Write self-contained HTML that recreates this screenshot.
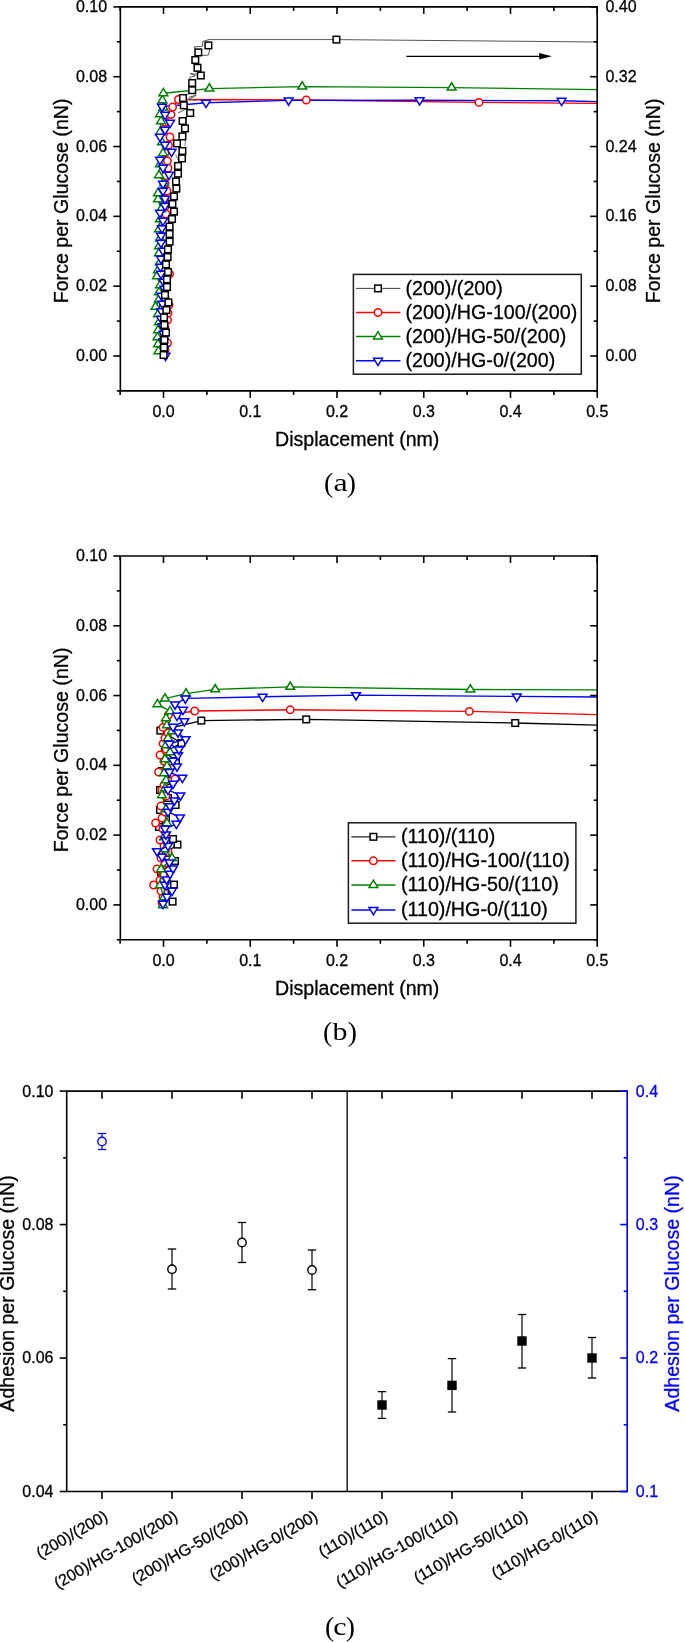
<!DOCTYPE html>
<html><head><meta charset="utf-8"><title>Figure</title>
<style>html,body{margin:0;padding:0;background:#fff}svg{display:block;will-change:transform}</style></head>
<body>
<svg width="685" height="1642" viewBox="0 0 685 1642">
<rect width="685" height="1642" fill="#fff"/>
<g clip-path="url(#ca)">
<defs><clipPath id="ca"><rect x="120" y="6.9" width="478" height="384.0"/></clipPath></defs>
<polyline points="165.0,350.0 167.5,343.0 164.0,335.5 165.0,328.0 167.5,320.0 168.0,313.0 169.0,305.0 165.0,297.5 165.0,290.0 166.0,282.0 169.6,274.0 164.5,267.5 165.0,260.0 166.0,252.0 164.5,245.0 165.0,237.0 165.5,229.5 165.0,222.0 166.0,214.0 165.0,206.5 165.0,199.0 167.0,191.0 165.0,183.5 165.0,176.0 168.0,168.0 167.4,161.0 165.0,153.0 168.5,145.0 170.0,137.0 164.0,129.5 165.0,122.0 171.0,114.6 172.6,107.0 178.5,99.5 306.3,100.0 479.0,102.4 597.0,103.4" fill="none" stroke="#ff0000" stroke-width="1.4" stroke-linejoin="round"/>
<polyline points="158.5,351.2 158.0,344.2 157.5,337.2 158.0,330.2 159.0,322.2 158.0,314.2 155.5,306.7 159.0,299.2 159.0,292.2 160.0,285.2 157.0,276.2 158.0,270.2 160.0,262.2 159.0,253.2 159.0,246.2 160.0,238.2 159.0,229.2 160.0,219.2 161.0,209.2 158.0,199.2 158.0,193.2 164.0,183.2 159.0,175.2 160.0,164.2 163.0,153.2 162.0,142.2 160.0,132.2 161.0,121.2 160.0,114.2 163.4,107.6 162.4,100.2 163.4,93.2 209.4,88.6 302.2,86.6 451.6,87.6 597.0,89.6" fill="none" stroke="#008000" stroke-width="1.4" stroke-linejoin="round"/>
<polyline points="163.0,355.8 162.0,348.8 161.0,341.3 161.0,333.8 160.0,326.3 158.5,318.8 159.0,311.3 160.0,303.8 159.0,295.8 162.0,288.8 161.0,281.8 160.0,273.8 159.4,266.8 160.0,258.8 162.0,250.8 160.0,242.8 160.0,235.8 161.0,228.3 162.0,220.8 159.0,212.8 164.0,205.8 164.0,198.8 162.0,190.8 162.0,183.8 168.0,174.8 162.0,167.8 159.0,159.8 170.6,151.8 164.0,144.8 159.0,136.8 164.0,129.8 169.0,122.8 164.0,114.8 161.0,106.8 206.0,102.8 288.6,100.4 419.6,100.3 561.6,100.8 597.0,101.6" fill="none" stroke="#0000ff" stroke-width="1.4" stroke-linejoin="round"/>
<circle cx="165.00" cy="350.00" r="3.7" fill="#fff" stroke="#ff0000" stroke-width="1.5"/>
<circle cx="167.50" cy="343.00" r="3.7" fill="#fff" stroke="#ff0000" stroke-width="1.5"/>
<circle cx="164.00" cy="335.50" r="3.7" fill="#fff" stroke="#ff0000" stroke-width="1.5"/>
<circle cx="165.00" cy="328.00" r="3.7" fill="#fff" stroke="#ff0000" stroke-width="1.5"/>
<circle cx="167.50" cy="320.00" r="3.7" fill="#fff" stroke="#ff0000" stroke-width="1.5"/>
<circle cx="168.00" cy="313.00" r="3.7" fill="#fff" stroke="#ff0000" stroke-width="1.5"/>
<circle cx="169.00" cy="305.00" r="3.7" fill="#fff" stroke="#ff0000" stroke-width="1.5"/>
<circle cx="165.00" cy="297.50" r="3.7" fill="#fff" stroke="#ff0000" stroke-width="1.5"/>
<circle cx="165.00" cy="290.00" r="3.7" fill="#fff" stroke="#ff0000" stroke-width="1.5"/>
<circle cx="166.00" cy="282.00" r="3.7" fill="#fff" stroke="#ff0000" stroke-width="1.5"/>
<circle cx="169.60" cy="274.00" r="3.7" fill="#fff" stroke="#ff0000" stroke-width="1.5"/>
<circle cx="164.50" cy="267.50" r="3.7" fill="#fff" stroke="#ff0000" stroke-width="1.5"/>
<circle cx="165.00" cy="260.00" r="3.7" fill="#fff" stroke="#ff0000" stroke-width="1.5"/>
<circle cx="166.00" cy="252.00" r="3.7" fill="#fff" stroke="#ff0000" stroke-width="1.5"/>
<circle cx="164.50" cy="245.00" r="3.7" fill="#fff" stroke="#ff0000" stroke-width="1.5"/>
<circle cx="165.00" cy="237.00" r="3.7" fill="#fff" stroke="#ff0000" stroke-width="1.5"/>
<circle cx="165.50" cy="229.50" r="3.7" fill="#fff" stroke="#ff0000" stroke-width="1.5"/>
<circle cx="165.00" cy="222.00" r="3.7" fill="#fff" stroke="#ff0000" stroke-width="1.5"/>
<circle cx="166.00" cy="214.00" r="3.7" fill="#fff" stroke="#ff0000" stroke-width="1.5"/>
<circle cx="165.00" cy="206.50" r="3.7" fill="#fff" stroke="#ff0000" stroke-width="1.5"/>
<circle cx="165.00" cy="199.00" r="3.7" fill="#fff" stroke="#ff0000" stroke-width="1.5"/>
<circle cx="167.00" cy="191.00" r="3.7" fill="#fff" stroke="#ff0000" stroke-width="1.5"/>
<circle cx="165.00" cy="183.50" r="3.7" fill="#fff" stroke="#ff0000" stroke-width="1.5"/>
<circle cx="165.00" cy="176.00" r="3.7" fill="#fff" stroke="#ff0000" stroke-width="1.5"/>
<circle cx="168.00" cy="168.00" r="3.7" fill="#fff" stroke="#ff0000" stroke-width="1.5"/>
<circle cx="167.40" cy="161.00" r="3.7" fill="#fff" stroke="#ff0000" stroke-width="1.5"/>
<circle cx="165.00" cy="153.00" r="3.7" fill="#fff" stroke="#ff0000" stroke-width="1.5"/>
<circle cx="168.50" cy="145.00" r="3.7" fill="#fff" stroke="#ff0000" stroke-width="1.5"/>
<circle cx="170.00" cy="137.00" r="3.7" fill="#fff" stroke="#ff0000" stroke-width="1.5"/>
<circle cx="164.00" cy="129.50" r="3.7" fill="#fff" stroke="#ff0000" stroke-width="1.5"/>
<circle cx="165.00" cy="122.00" r="3.7" fill="#fff" stroke="#ff0000" stroke-width="1.5"/>
<circle cx="171.00" cy="114.60" r="3.7" fill="#fff" stroke="#ff0000" stroke-width="1.5"/>
<circle cx="172.60" cy="107.00" r="3.7" fill="#fff" stroke="#ff0000" stroke-width="1.5"/>
<circle cx="178.50" cy="99.50" r="3.7" fill="#fff" stroke="#ff0000" stroke-width="1.5"/>
<circle cx="306.30" cy="100.00" r="3.7" fill="#fff" stroke="#ff0000" stroke-width="1.5"/>
<circle cx="479.00" cy="102.40" r="3.7" fill="#fff" stroke="#ff0000" stroke-width="1.5"/>
<path d="M154.10 353.65L162.90 353.65L158.50 346.35Z" fill="#fff" stroke="#008000" stroke-width="1.5"/>
<path d="M153.60 346.65L162.40 346.65L158.00 339.35Z" fill="#fff" stroke="#008000" stroke-width="1.5"/>
<path d="M153.10 339.65L161.90 339.65L157.50 332.35Z" fill="#fff" stroke="#008000" stroke-width="1.5"/>
<path d="M153.60 332.65L162.40 332.65L158.00 325.35Z" fill="#fff" stroke="#008000" stroke-width="1.5"/>
<path d="M154.60 324.65L163.40 324.65L159.00 317.35Z" fill="#fff" stroke="#008000" stroke-width="1.5"/>
<path d="M153.60 316.65L162.40 316.65L158.00 309.35Z" fill="#fff" stroke="#008000" stroke-width="1.5"/>
<path d="M151.10 309.15L159.90 309.15L155.50 301.85Z" fill="#fff" stroke="#008000" stroke-width="1.5"/>
<path d="M154.60 301.65L163.40 301.65L159.00 294.35Z" fill="#fff" stroke="#008000" stroke-width="1.5"/>
<path d="M154.60 294.65L163.40 294.65L159.00 287.35Z" fill="#fff" stroke="#008000" stroke-width="1.5"/>
<path d="M155.60 287.65L164.40 287.65L160.00 280.35Z" fill="#fff" stroke="#008000" stroke-width="1.5"/>
<path d="M152.60 278.65L161.40 278.65L157.00 271.35Z" fill="#fff" stroke="#008000" stroke-width="1.5"/>
<path d="M153.60 272.65L162.40 272.65L158.00 265.35Z" fill="#fff" stroke="#008000" stroke-width="1.5"/>
<path d="M155.60 264.65L164.40 264.65L160.00 257.35Z" fill="#fff" stroke="#008000" stroke-width="1.5"/>
<path d="M154.60 255.65L163.40 255.65L159.00 248.35Z" fill="#fff" stroke="#008000" stroke-width="1.5"/>
<path d="M154.60 248.65L163.40 248.65L159.00 241.35Z" fill="#fff" stroke="#008000" stroke-width="1.5"/>
<path d="M155.60 240.65L164.40 240.65L160.00 233.35Z" fill="#fff" stroke="#008000" stroke-width="1.5"/>
<path d="M154.60 231.65L163.40 231.65L159.00 224.35Z" fill="#fff" stroke="#008000" stroke-width="1.5"/>
<path d="M155.60 221.65L164.40 221.65L160.00 214.35Z" fill="#fff" stroke="#008000" stroke-width="1.5"/>
<path d="M156.60 211.65L165.40 211.65L161.00 204.35Z" fill="#fff" stroke="#008000" stroke-width="1.5"/>
<path d="M153.60 201.65L162.40 201.65L158.00 194.35Z" fill="#fff" stroke="#008000" stroke-width="1.5"/>
<path d="M153.60 195.65L162.40 195.65L158.00 188.35Z" fill="#fff" stroke="#008000" stroke-width="1.5"/>
<path d="M159.60 185.65L168.40 185.65L164.00 178.35Z" fill="#fff" stroke="#008000" stroke-width="1.5"/>
<path d="M154.60 177.65L163.40 177.65L159.00 170.35Z" fill="#fff" stroke="#008000" stroke-width="1.5"/>
<path d="M155.60 166.65L164.40 166.65L160.00 159.35Z" fill="#fff" stroke="#008000" stroke-width="1.5"/>
<path d="M158.60 155.65L167.40 155.65L163.00 148.35Z" fill="#fff" stroke="#008000" stroke-width="1.5"/>
<path d="M157.60 144.65L166.40 144.65L162.00 137.35Z" fill="#fff" stroke="#008000" stroke-width="1.5"/>
<path d="M155.60 134.65L164.40 134.65L160.00 127.35Z" fill="#fff" stroke="#008000" stroke-width="1.5"/>
<path d="M156.60 123.65L165.40 123.65L161.00 116.35Z" fill="#fff" stroke="#008000" stroke-width="1.5"/>
<path d="M155.60 116.65L164.40 116.65L160.00 109.35Z" fill="#fff" stroke="#008000" stroke-width="1.5"/>
<path d="M159.00 110.05L167.80 110.05L163.40 102.75Z" fill="#fff" stroke="#008000" stroke-width="1.5"/>
<path d="M158.00 102.65L166.80 102.65L162.40 95.35Z" fill="#fff" stroke="#008000" stroke-width="1.5"/>
<path d="M159.00 95.65L167.80 95.65L163.40 88.35Z" fill="#fff" stroke="#008000" stroke-width="1.5"/>
<path d="M205.00 91.05L213.80 91.05L209.40 83.75Z" fill="#fff" stroke="#008000" stroke-width="1.5"/>
<path d="M297.80 89.05L306.60 89.05L302.20 81.75Z" fill="#fff" stroke="#008000" stroke-width="1.5"/>
<path d="M447.20 90.05L456.00 90.05L451.60 82.75Z" fill="#fff" stroke="#008000" stroke-width="1.5"/>
<path d="M161.10 353.35L169.90 353.35L165.50 360.65Z" fill="#fff" stroke="#0000ff" stroke-width="1.5"/>
<path d="M160.10 346.35L168.90 346.35L164.50 353.65Z" fill="#fff" stroke="#0000ff" stroke-width="1.5"/>
<path d="M159.10 338.85L167.90 338.85L163.50 346.15Z" fill="#fff" stroke="#0000ff" stroke-width="1.5"/>
<path d="M159.10 331.35L167.90 331.35L163.50 338.65Z" fill="#fff" stroke="#0000ff" stroke-width="1.5"/>
<path d="M158.10 323.85L166.90 323.85L162.50 331.15Z" fill="#fff" stroke="#0000ff" stroke-width="1.5"/>
<path d="M156.60 316.35L165.40 316.35L161.00 323.65Z" fill="#fff" stroke="#0000ff" stroke-width="1.5"/>
<path d="M157.10 308.85L165.90 308.85L161.50 316.15Z" fill="#fff" stroke="#0000ff" stroke-width="1.5"/>
<path d="M158.10 301.35L166.90 301.35L162.50 308.65Z" fill="#fff" stroke="#0000ff" stroke-width="1.5"/>
<path d="M157.10 293.35L165.90 293.35L161.50 300.65Z" fill="#fff" stroke="#0000ff" stroke-width="1.5"/>
<path d="M160.10 286.35L168.90 286.35L164.50 293.65Z" fill="#fff" stroke="#0000ff" stroke-width="1.5"/>
<path d="M159.10 279.35L167.90 279.35L163.50 286.65Z" fill="#fff" stroke="#0000ff" stroke-width="1.5"/>
<path d="M156.60 271.35L165.40 271.35L161.00 278.65Z" fill="#fff" stroke="#0000ff" stroke-width="1.5"/>
<path d="M156.00 264.35L164.80 264.35L160.40 271.65Z" fill="#fff" stroke="#0000ff" stroke-width="1.5"/>
<path d="M156.60 256.35L165.40 256.35L161.00 263.65Z" fill="#fff" stroke="#0000ff" stroke-width="1.5"/>
<path d="M158.60 248.35L167.40 248.35L163.00 255.65Z" fill="#fff" stroke="#0000ff" stroke-width="1.5"/>
<path d="M156.60 240.35L165.40 240.35L161.00 247.65Z" fill="#fff" stroke="#0000ff" stroke-width="1.5"/>
<path d="M156.60 233.35L165.40 233.35L161.00 240.65Z" fill="#fff" stroke="#0000ff" stroke-width="1.5"/>
<path d="M157.60 225.85L166.40 225.85L162.00 233.15Z" fill="#fff" stroke="#0000ff" stroke-width="1.5"/>
<path d="M158.60 218.35L167.40 218.35L163.00 225.65Z" fill="#fff" stroke="#0000ff" stroke-width="1.5"/>
<path d="M155.60 210.35L164.40 210.35L160.00 217.65Z" fill="#fff" stroke="#0000ff" stroke-width="1.5"/>
<path d="M160.60 203.35L169.40 203.35L165.00 210.65Z" fill="#fff" stroke="#0000ff" stroke-width="1.5"/>
<path d="M160.60 196.35L169.40 196.35L165.00 203.65Z" fill="#fff" stroke="#0000ff" stroke-width="1.5"/>
<path d="M158.60 188.35L167.40 188.35L163.00 195.65Z" fill="#fff" stroke="#0000ff" stroke-width="1.5"/>
<path d="M158.60 181.35L167.40 181.35L163.00 188.65Z" fill="#fff" stroke="#0000ff" stroke-width="1.5"/>
<path d="M164.60 172.35L173.40 172.35L169.00 179.65Z" fill="#fff" stroke="#0000ff" stroke-width="1.5"/>
<path d="M158.60 165.35L167.40 165.35L163.00 172.65Z" fill="#fff" stroke="#0000ff" stroke-width="1.5"/>
<path d="M155.60 157.35L164.40 157.35L160.00 164.65Z" fill="#fff" stroke="#0000ff" stroke-width="1.5"/>
<path d="M167.20 149.35L176.00 149.35L171.60 156.65Z" fill="#fff" stroke="#0000ff" stroke-width="1.5"/>
<path d="M160.60 142.35L169.40 142.35L165.00 149.65Z" fill="#fff" stroke="#0000ff" stroke-width="1.5"/>
<path d="M155.60 134.35L164.40 134.35L160.00 141.65Z" fill="#fff" stroke="#0000ff" stroke-width="1.5"/>
<path d="M160.60 127.35L169.40 127.35L165.00 134.65Z" fill="#fff" stroke="#0000ff" stroke-width="1.5"/>
<path d="M165.60 120.35L174.40 120.35L170.00 127.65Z" fill="#fff" stroke="#0000ff" stroke-width="1.5"/>
<path d="M160.60 112.35L169.40 112.35L165.00 119.65Z" fill="#fff" stroke="#0000ff" stroke-width="1.5"/>
<path d="M157.60 104.35L166.40 104.35L162.00 111.65Z" fill="#fff" stroke="#0000ff" stroke-width="1.5"/>
<path d="M201.60 100.35L210.40 100.35L206.00 107.65Z" fill="#fff" stroke="#0000ff" stroke-width="1.5"/>
<path d="M284.20 97.95L293.00 97.95L288.60 105.25Z" fill="#fff" stroke="#0000ff" stroke-width="1.5"/>
<path d="M415.20 97.85L424.00 97.85L419.60 105.15Z" fill="#fff" stroke="#0000ff" stroke-width="1.5"/>
<path d="M557.20 98.35L566.00 98.35L561.60 105.65Z" fill="#fff" stroke="#0000ff" stroke-width="1.5"/>
<polyline points="163.6,355.0 164.0,347.6 164.4,340.0 166.0,332.6 164.4,325.0 164.0,317.4 166.4,310.0 168.4,302.4 165.0,295.0 167.0,287.0 167.0,279.4 168.0,272.0 166.0,264.4 167.6,257.0 168.0,249.4 169.6,241.6 169.6,234.0 169.6,226.6 172.0,219.0 174.0,211.6 172.4,204.0 174.0,196.4 176.4,188.6 176.0,181.4 178.0,173.6 178.0,166.0 182.0,158.4 182.4,151.0 177.0,143.4 182.4,136.4 185.0,128.4 182.6,121.0 190.2,113.0 183.8,105.3 183.0,98.0 192.2,90.2 192.2,83.0 189.7,77.5 195.4,75.7 190.0,73.5 196.3,74.2 200.8,75.5 197.5,67.8 193.5,64.0 195.3,60.0 198.3,52.4 194.0,47.0 202.6,46.2 202.8,41.4 209.0,39.6 336.4,39.6 597.0,42.0" fill="none" stroke="#555" stroke-width="1.0" stroke-linejoin="round"/>
<polyline points="208.4,45.4 209.8,48.8 208.5,55.0 201.5,55.6" fill="none" stroke="#555" stroke-width="1.0" stroke-linejoin="round"/>
<polyline points="188.8,97.4 196.3,95.2 188.4,99.6 196.3,100.0" fill="none" stroke="#555" stroke-width="1.0" stroke-linejoin="round"/>
<polyline points="178.0,113.0 186.0,109.0 190.2,113.0" fill="none" stroke="#555" stroke-width="1.0" stroke-linejoin="round"/>
<polyline points="186.5,112.0 186.0,130.0 185.0,146.0" fill="none" stroke="#777" stroke-width="1.0" stroke-linejoin="round"/>
<polyline points="175.7,155.0 180.0,163.0" fill="none" stroke="#777" stroke-width="1.0" stroke-linejoin="round"/>
<rect x="160.30" y="351.70" width="6.6" height="6.6" fill="#fff" stroke="#000" stroke-width="1.5"/>
<rect x="160.70" y="344.30" width="6.6" height="6.6" fill="#fff" stroke="#000" stroke-width="1.5"/>
<rect x="161.10" y="336.70" width="6.6" height="6.6" fill="#fff" stroke="#000" stroke-width="1.5"/>
<rect x="162.70" y="329.30" width="6.6" height="6.6" fill="#fff" stroke="#000" stroke-width="1.5"/>
<rect x="161.10" y="321.70" width="6.6" height="6.6" fill="#fff" stroke="#000" stroke-width="1.5"/>
<rect x="160.70" y="314.10" width="6.6" height="6.6" fill="#fff" stroke="#000" stroke-width="1.5"/>
<rect x="163.10" y="306.70" width="6.6" height="6.6" fill="#fff" stroke="#000" stroke-width="1.5"/>
<rect x="165.10" y="299.10" width="6.6" height="6.6" fill="#fff" stroke="#000" stroke-width="1.5"/>
<rect x="161.70" y="291.70" width="6.6" height="6.6" fill="#fff" stroke="#000" stroke-width="1.5"/>
<rect x="163.70" y="283.70" width="6.6" height="6.6" fill="#fff" stroke="#000" stroke-width="1.5"/>
<rect x="163.70" y="276.10" width="6.6" height="6.6" fill="#fff" stroke="#000" stroke-width="1.5"/>
<rect x="164.70" y="268.70" width="6.6" height="6.6" fill="#fff" stroke="#000" stroke-width="1.5"/>
<rect x="162.70" y="261.10" width="6.6" height="6.6" fill="#fff" stroke="#000" stroke-width="1.5"/>
<rect x="164.30" y="253.70" width="6.6" height="6.6" fill="#fff" stroke="#000" stroke-width="1.5"/>
<rect x="164.70" y="246.10" width="6.6" height="6.6" fill="#fff" stroke="#000" stroke-width="1.5"/>
<rect x="166.30" y="238.30" width="6.6" height="6.6" fill="#fff" stroke="#000" stroke-width="1.5"/>
<rect x="166.30" y="230.70" width="6.6" height="6.6" fill="#fff" stroke="#000" stroke-width="1.5"/>
<rect x="166.30" y="223.30" width="6.6" height="6.6" fill="#fff" stroke="#000" stroke-width="1.5"/>
<rect x="168.70" y="215.70" width="6.6" height="6.6" fill="#fff" stroke="#000" stroke-width="1.5"/>
<rect x="170.70" y="208.30" width="6.6" height="6.6" fill="#fff" stroke="#000" stroke-width="1.5"/>
<rect x="169.10" y="200.70" width="6.6" height="6.6" fill="#fff" stroke="#000" stroke-width="1.5"/>
<rect x="170.70" y="193.10" width="6.6" height="6.6" fill="#fff" stroke="#000" stroke-width="1.5"/>
<rect x="173.10" y="185.30" width="6.6" height="6.6" fill="#fff" stroke="#000" stroke-width="1.5"/>
<rect x="172.70" y="178.10" width="6.6" height="6.6" fill="#fff" stroke="#000" stroke-width="1.5"/>
<rect x="174.70" y="170.30" width="6.6" height="6.6" fill="#fff" stroke="#000" stroke-width="1.5"/>
<rect x="174.70" y="162.70" width="6.6" height="6.6" fill="#fff" stroke="#000" stroke-width="1.5"/>
<rect x="178.70" y="155.10" width="6.6" height="6.6" fill="#fff" stroke="#000" stroke-width="1.5"/>
<rect x="179.10" y="147.70" width="6.6" height="6.6" fill="#fff" stroke="#000" stroke-width="1.5"/>
<rect x="173.70" y="140.10" width="6.6" height="6.6" fill="#fff" stroke="#000" stroke-width="1.5"/>
<rect x="179.10" y="133.10" width="6.6" height="6.6" fill="#fff" stroke="#000" stroke-width="1.5"/>
<rect x="181.70" y="125.10" width="6.6" height="6.6" fill="#fff" stroke="#000" stroke-width="1.5"/>
<rect x="179.30" y="117.70" width="6.6" height="6.6" fill="#fff" stroke="#000" stroke-width="1.5"/>
<rect x="186.90" y="109.70" width="6.6" height="6.6" fill="#fff" stroke="#000" stroke-width="1.5"/>
<rect x="180.50" y="102.00" width="6.6" height="6.6" fill="#fff" stroke="#000" stroke-width="1.5"/>
<rect x="179.70" y="94.70" width="6.6" height="6.6" fill="#fff" stroke="#000" stroke-width="1.5"/>
<rect x="188.90" y="86.90" width="6.6" height="6.6" fill="#fff" stroke="#000" stroke-width="1.5"/>
<rect x="188.90" y="79.70" width="6.6" height="6.6" fill="#fff" stroke="#000" stroke-width="1.5"/>
<rect x="197.50" y="72.20" width="6.6" height="6.6" fill="#fff" stroke="#000" stroke-width="1.5"/>
<rect x="194.20" y="64.50" width="6.6" height="6.6" fill="#fff" stroke="#000" stroke-width="1.5"/>
<rect x="192.00" y="56.70" width="6.6" height="6.6" fill="#fff" stroke="#000" stroke-width="1.5"/>
<rect x="195.00" y="49.10" width="6.6" height="6.6" fill="#fff" stroke="#000" stroke-width="1.5"/>
<rect x="205.10" y="42.10" width="6.6" height="6.6" fill="#fff" stroke="#000" stroke-width="1.5"/>
<rect x="333.10" y="36.30" width="6.6" height="6.6" fill="#fff" stroke="#000" stroke-width="1.5"/>
</g>
<line x1="406.40" y1="56.30" x2="541.00" y2="56.30" stroke="#000" stroke-width="1.2" />
<path d="M551.8 56.3L539.2 53L539.2 59.6Z" fill="#000"/>
<line x1="119.55" y1="6.90" x2="598.00" y2="6.90" stroke="#000" stroke-width="1.6" />
<line x1="119.55" y1="390.90" x2="598.00" y2="390.90" stroke="#000" stroke-width="1.6" />
<line x1="120.35" y1="6.90" x2="120.35" y2="390.90" stroke="#000" stroke-width="1.6" />
<line x1="597.20" y1="6.90" x2="597.20" y2="390.90" stroke="#000" stroke-width="1.6" />
<line x1="120.12" y1="390.90" x2="120.12" y2="394.90" stroke="#000" stroke-width="1.6" />
<line x1="120.12" y1="6.90" x2="120.12" y2="10.90" stroke="#000" stroke-width="1.6" />
<line x1="163.50" y1="390.90" x2="163.50" y2="397.90" stroke="#000" stroke-width="1.6" />
<line x1="163.50" y1="6.90" x2="163.50" y2="13.90" stroke="#000" stroke-width="1.6" />
<text x="163.50" y="416.60" font-size="16" text-anchor="middle" fill="#000" stroke="#000" stroke-width="0.3" font-family='"Liberation Sans", Arial, sans-serif' >0.0</text>
<line x1="206.88" y1="390.90" x2="206.88" y2="394.90" stroke="#000" stroke-width="1.6" />
<line x1="206.88" y1="6.90" x2="206.88" y2="10.90" stroke="#000" stroke-width="1.6" />
<line x1="250.25" y1="390.90" x2="250.25" y2="397.90" stroke="#000" stroke-width="1.6" />
<line x1="250.25" y1="6.90" x2="250.25" y2="13.90" stroke="#000" stroke-width="1.6" />
<text x="250.25" y="416.60" font-size="16" text-anchor="middle" fill="#000" stroke="#000" stroke-width="0.3" font-family='"Liberation Sans", Arial, sans-serif' >0.1</text>
<line x1="293.62" y1="390.90" x2="293.62" y2="394.90" stroke="#000" stroke-width="1.6" />
<line x1="293.62" y1="6.90" x2="293.62" y2="10.90" stroke="#000" stroke-width="1.6" />
<line x1="337.00" y1="390.90" x2="337.00" y2="397.90" stroke="#000" stroke-width="1.6" />
<line x1="337.00" y1="6.90" x2="337.00" y2="13.90" stroke="#000" stroke-width="1.6" />
<text x="337.00" y="416.60" font-size="16" text-anchor="middle" fill="#000" stroke="#000" stroke-width="0.3" font-family='"Liberation Sans", Arial, sans-serif' >0.2</text>
<line x1="380.38" y1="390.90" x2="380.38" y2="394.90" stroke="#000" stroke-width="1.6" />
<line x1="380.38" y1="6.90" x2="380.38" y2="10.90" stroke="#000" stroke-width="1.6" />
<line x1="423.75" y1="390.90" x2="423.75" y2="397.90" stroke="#000" stroke-width="1.6" />
<line x1="423.75" y1="6.90" x2="423.75" y2="13.90" stroke="#000" stroke-width="1.6" />
<text x="423.75" y="416.60" font-size="16" text-anchor="middle" fill="#000" stroke="#000" stroke-width="0.3" font-family='"Liberation Sans", Arial, sans-serif' >0.3</text>
<line x1="467.13" y1="390.90" x2="467.13" y2="394.90" stroke="#000" stroke-width="1.6" />
<line x1="467.13" y1="6.90" x2="467.13" y2="10.90" stroke="#000" stroke-width="1.6" />
<line x1="510.50" y1="390.90" x2="510.50" y2="397.90" stroke="#000" stroke-width="1.6" />
<line x1="510.50" y1="6.90" x2="510.50" y2="13.90" stroke="#000" stroke-width="1.6" />
<text x="510.50" y="416.60" font-size="16" text-anchor="middle" fill="#000" stroke="#000" stroke-width="0.3" font-family='"Liberation Sans", Arial, sans-serif' >0.4</text>
<line x1="553.88" y1="390.90" x2="553.88" y2="394.90" stroke="#000" stroke-width="1.6" />
<line x1="553.88" y1="6.90" x2="553.88" y2="10.90" stroke="#000" stroke-width="1.6" />
<line x1="597.25" y1="390.90" x2="597.25" y2="397.90" stroke="#000" stroke-width="1.6" />
<line x1="597.25" y1="6.90" x2="597.25" y2="13.90" stroke="#000" stroke-width="1.6" />
<text x="597.25" y="416.60" font-size="16" text-anchor="middle" fill="#000" stroke="#000" stroke-width="0.3" font-family='"Liberation Sans", Arial, sans-serif' >0.5</text>
<line x1="116.85" y1="390.90" x2="120.35" y2="390.90" stroke="#000" stroke-width="1.6" />
<line x1="593.70" y1="390.90" x2="597.20" y2="390.90" stroke="#000" stroke-width="1.6" />
<line x1="113.35" y1="355.99" x2="120.35" y2="355.99" stroke="#000" stroke-width="1.6" />
<line x1="590.20" y1="355.99" x2="597.20" y2="355.99" stroke="#000" stroke-width="1.6" />
<text x="107.05" y="361.09" font-size="16" text-anchor="end" fill="#000" stroke="#000" stroke-width="0.3" font-family='"Liberation Sans", Arial, sans-serif' >0.00</text>
<text x="605.40" y="361.09" font-size="16" text-anchor="start" fill="#000" stroke="#000" stroke-width="0.3" font-family='"Liberation Sans", Arial, sans-serif' >0.00</text>
<line x1="116.85" y1="321.08" x2="120.35" y2="321.08" stroke="#000" stroke-width="1.6" />
<line x1="593.70" y1="321.08" x2="597.20" y2="321.08" stroke="#000" stroke-width="1.6" />
<line x1="113.35" y1="286.17" x2="120.35" y2="286.17" stroke="#000" stroke-width="1.6" />
<line x1="590.20" y1="286.17" x2="597.20" y2="286.17" stroke="#000" stroke-width="1.6" />
<text x="107.05" y="291.27" font-size="16" text-anchor="end" fill="#000" stroke="#000" stroke-width="0.3" font-family='"Liberation Sans", Arial, sans-serif' >0.02</text>
<text x="605.40" y="291.27" font-size="16" text-anchor="start" fill="#000" stroke="#000" stroke-width="0.3" font-family='"Liberation Sans", Arial, sans-serif' >0.08</text>
<line x1="116.85" y1="251.26" x2="120.35" y2="251.26" stroke="#000" stroke-width="1.6" />
<line x1="593.70" y1="251.26" x2="597.20" y2="251.26" stroke="#000" stroke-width="1.6" />
<line x1="113.35" y1="216.35" x2="120.35" y2="216.35" stroke="#000" stroke-width="1.6" />
<line x1="590.20" y1="216.35" x2="597.20" y2="216.35" stroke="#000" stroke-width="1.6" />
<text x="107.05" y="221.45" font-size="16" text-anchor="end" fill="#000" stroke="#000" stroke-width="0.3" font-family='"Liberation Sans", Arial, sans-serif' >0.04</text>
<text x="605.40" y="221.45" font-size="16" text-anchor="start" fill="#000" stroke="#000" stroke-width="0.3" font-family='"Liberation Sans", Arial, sans-serif' >0.16</text>
<line x1="116.85" y1="181.45" x2="120.35" y2="181.45" stroke="#000" stroke-width="1.6" />
<line x1="593.70" y1="181.45" x2="597.20" y2="181.45" stroke="#000" stroke-width="1.6" />
<line x1="113.35" y1="146.54" x2="120.35" y2="146.54" stroke="#000" stroke-width="1.6" />
<line x1="590.20" y1="146.54" x2="597.20" y2="146.54" stroke="#000" stroke-width="1.6" />
<text x="107.05" y="151.64" font-size="16" text-anchor="end" fill="#000" stroke="#000" stroke-width="0.3" font-family='"Liberation Sans", Arial, sans-serif' >0.06</text>
<text x="605.40" y="151.64" font-size="16" text-anchor="start" fill="#000" stroke="#000" stroke-width="0.3" font-family='"Liberation Sans", Arial, sans-serif' >0.24</text>
<line x1="116.85" y1="111.63" x2="120.35" y2="111.63" stroke="#000" stroke-width="1.6" />
<line x1="593.70" y1="111.63" x2="597.20" y2="111.63" stroke="#000" stroke-width="1.6" />
<line x1="113.35" y1="76.72" x2="120.35" y2="76.72" stroke="#000" stroke-width="1.6" />
<line x1="590.20" y1="76.72" x2="597.20" y2="76.72" stroke="#000" stroke-width="1.6" />
<text x="107.05" y="81.82" font-size="16" text-anchor="end" fill="#000" stroke="#000" stroke-width="0.3" font-family='"Liberation Sans", Arial, sans-serif' >0.08</text>
<text x="605.40" y="81.82" font-size="16" text-anchor="start" fill="#000" stroke="#000" stroke-width="0.3" font-family='"Liberation Sans", Arial, sans-serif' >0.32</text>
<line x1="116.85" y1="41.81" x2="120.35" y2="41.81" stroke="#000" stroke-width="1.6" />
<line x1="593.70" y1="41.81" x2="597.20" y2="41.81" stroke="#000" stroke-width="1.6" />
<line x1="113.35" y1="6.90" x2="120.35" y2="6.90" stroke="#000" stroke-width="1.6" />
<line x1="590.20" y1="6.90" x2="597.20" y2="6.90" stroke="#000" stroke-width="1.6" />
<text x="107.05" y="12.00" font-size="16" text-anchor="end" fill="#000" stroke="#000" stroke-width="0.3" font-family='"Liberation Sans", Arial, sans-serif' >0.10</text>
<text x="605.40" y="12.00" font-size="16" text-anchor="start" fill="#000" stroke="#000" stroke-width="0.3" font-family='"Liberation Sans", Arial, sans-serif' >0.40</text>
<text transform="translate(68,200.9) rotate(-90)" font-size="19.6" text-anchor="middle" stroke="#000" stroke-width="0.3" font-family='"Liberation Sans", Arial, sans-serif'>Force per Glucose (nN)</text>
<text transform="translate(659.6,200.9) rotate(-90)" font-size="19.6" text-anchor="middle" stroke="#000" stroke-width="0.3" font-family='"Liberation Sans", Arial, sans-serif'>Force per Glucose (nN)</text>
<text x="357.20" y="445.60" font-size="19.6" text-anchor="middle" fill="#000" stroke="#000" stroke-width="0.3" font-family='"Liberation Sans", Arial, sans-serif' >Displacement (nm)</text>
<rect x="353.4" y="274.4" width="227.9" height="99.8" fill="#fff" stroke="#1a1a1a" stroke-width="1.5"/>
<line x1="356.00" y1="288.40" x2="400.40" y2="288.40" stroke="#444" stroke-width="1.0" />
<rect x="374.70" y="285.10" width="6.6" height="6.6" fill="#fff" stroke="#000" stroke-width="1.5"/>
<text x="405.40" y="294.80" font-size="19.7" text-anchor="start" fill="#000" stroke="#000" stroke-width="0.3" font-family='"Liberation Sans", Arial, sans-serif' >(200)/(200)</text>
<line x1="356.00" y1="312.50" x2="400.40" y2="312.50" stroke="#ff0000" stroke-width="1.4" />
<circle cx="378.00" cy="312.50" r="3.7" fill="#fff" stroke="#ff0000" stroke-width="1.5"/>
<text x="405.40" y="318.90" font-size="19.7" text-anchor="start" fill="#000" stroke="#000" stroke-width="0.3" font-family='"Liberation Sans", Arial, sans-serif' >(200)/HG-100/(200)</text>
<line x1="356.00" y1="336.50" x2="400.40" y2="336.50" stroke="#008000" stroke-width="1.4" />
<path d="M373.60 338.95L382.40 338.95L378.00 331.65Z" fill="#fff" stroke="#008000" stroke-width="1.5"/>
<text x="405.40" y="342.90" font-size="19.7" text-anchor="start" fill="#000" stroke="#000" stroke-width="0.3" font-family='"Liberation Sans", Arial, sans-serif' >(200)/HG-50/(200)</text>
<line x1="356.00" y1="360.80" x2="400.40" y2="360.80" stroke="#0000ff" stroke-width="1.4" />
<path d="M373.60 358.35L382.40 358.35L378.00 365.65Z" fill="#fff" stroke="#0000ff" stroke-width="1.5"/>
<text x="405.40" y="367.20" font-size="19.7" text-anchor="start" fill="#000" stroke="#000" stroke-width="0.3" font-family='"Liberation Sans", Arial, sans-serif' >(200)/HG-0/(200)</text>
<text x="324.00" y="491.80" font-size="27.7" font-family='"Liberation Serif", serif'>(</text>
<text transform="translate(340.50,491.30) scale(1.28,1)" font-size="25" text-anchor="middle" font-family='"Liberation Serif", serif'>a</text>
<text x="346.80" y="491.80" font-size="27.7" font-family='"Liberation Serif", serif'>)</text>
<defs><clipPath id="cb"><rect x="120" y="556.0" width="478" height="383.79999999999995"/></clipPath></defs>
<g clip-path="url(#cb)">
<polyline points="172.6,901.6 165.0,893.0 174.0,884.6 161.0,872.0 175.0,861.0 166.0,853.0 177.4,844.6 173.0,839.0 159.0,827.0 166.0,819.0 160.0,810.0 175.6,805.0 168.0,798.0 160.0,790.0 170.0,781.0 162.0,771.0 176.0,761.0 165.0,752.0 181.4,743.0 160.4,730.6 201.3,720.6 306.2,719.4 515.2,723.0 597.0,725.2" fill="none" stroke="#000" stroke-width="1.3" stroke-linejoin="round"/>
<rect x="169.30" y="898.30" width="6.6" height="6.6" fill="#fff" stroke="#000" stroke-width="1.5"/>
<rect x="161.70" y="889.70" width="6.6" height="6.6" fill="#fff" stroke="#000" stroke-width="1.5"/>
<rect x="170.70" y="881.30" width="6.6" height="6.6" fill="#fff" stroke="#000" stroke-width="1.5"/>
<rect x="157.70" y="868.70" width="6.6" height="6.6" fill="#fff" stroke="#000" stroke-width="1.5"/>
<rect x="171.70" y="857.70" width="6.6" height="6.6" fill="#fff" stroke="#000" stroke-width="1.5"/>
<rect x="162.70" y="849.70" width="6.6" height="6.6" fill="#fff" stroke="#000" stroke-width="1.5"/>
<rect x="174.10" y="841.30" width="6.6" height="6.6" fill="#fff" stroke="#000" stroke-width="1.5"/>
<rect x="169.70" y="835.70" width="6.6" height="6.6" fill="#fff" stroke="#000" stroke-width="1.5"/>
<rect x="155.70" y="823.70" width="6.6" height="6.6" fill="#fff" stroke="#000" stroke-width="1.5"/>
<rect x="162.70" y="815.70" width="6.6" height="6.6" fill="#fff" stroke="#000" stroke-width="1.5"/>
<rect x="156.70" y="806.70" width="6.6" height="6.6" fill="#fff" stroke="#000" stroke-width="1.5"/>
<rect x="172.30" y="801.70" width="6.6" height="6.6" fill="#fff" stroke="#000" stroke-width="1.5"/>
<rect x="164.70" y="794.70" width="6.6" height="6.6" fill="#fff" stroke="#000" stroke-width="1.5"/>
<rect x="156.70" y="786.70" width="6.6" height="6.6" fill="#fff" stroke="#000" stroke-width="1.5"/>
<rect x="166.70" y="777.70" width="6.6" height="6.6" fill="#fff" stroke="#000" stroke-width="1.5"/>
<rect x="158.70" y="767.70" width="6.6" height="6.6" fill="#fff" stroke="#000" stroke-width="1.5"/>
<rect x="172.70" y="757.70" width="6.6" height="6.6" fill="#fff" stroke="#000" stroke-width="1.5"/>
<rect x="161.70" y="748.70" width="6.6" height="6.6" fill="#fff" stroke="#000" stroke-width="1.5"/>
<rect x="178.10" y="739.70" width="6.6" height="6.6" fill="#fff" stroke="#000" stroke-width="1.5"/>
<rect x="157.10" y="727.30" width="6.6" height="6.6" fill="#fff" stroke="#000" stroke-width="1.5"/>
<rect x="198.00" y="717.30" width="6.6" height="6.6" fill="#fff" stroke="#000" stroke-width="1.5"/>
<rect x="302.90" y="716.10" width="6.6" height="6.6" fill="#fff" stroke="#000" stroke-width="1.5"/>
<rect x="511.90" y="719.70" width="6.6" height="6.6" fill="#fff" stroke="#000" stroke-width="1.5"/>
<polyline points="162.0,903.0 163.0,897.0 161.0,891.0 153.6,885.0 160.0,880.0 163.0,875.0 157.0,869.0 165.0,863.0 161.0,858.0 168.0,852.0 164.0,846.0 160.0,840.0 166.0,835.0 163.0,829.0 155.6,823.0 162.0,818.0 165.0,812.0 161.0,806.0 166.0,796.0 162.0,790.0 164.0,785.0 175.0,779.0 158.6,772.0 167.0,767.0 164.0,761.0 160.0,755.0 166.0,749.0 163.0,743.6 165.0,738.0 168.0,733.0 163.0,727.4 166.0,721.0 168.4,715.0 194.7,711.0 290.2,709.8 469.3,711.4 597.0,714.6" fill="none" stroke="#ff0000" stroke-width="1.4" stroke-linejoin="round"/>
<circle cx="162.00" cy="903.00" r="3.7" fill="#fff" stroke="#ff0000" stroke-width="1.5"/>
<circle cx="163.00" cy="897.00" r="3.7" fill="#fff" stroke="#ff0000" stroke-width="1.5"/>
<circle cx="161.00" cy="891.00" r="3.7" fill="#fff" stroke="#ff0000" stroke-width="1.5"/>
<circle cx="153.60" cy="885.00" r="3.7" fill="#fff" stroke="#ff0000" stroke-width="1.5"/>
<circle cx="160.00" cy="880.00" r="3.7" fill="#fff" stroke="#ff0000" stroke-width="1.5"/>
<circle cx="163.00" cy="875.00" r="3.7" fill="#fff" stroke="#ff0000" stroke-width="1.5"/>
<circle cx="157.00" cy="869.00" r="3.7" fill="#fff" stroke="#ff0000" stroke-width="1.5"/>
<circle cx="165.00" cy="863.00" r="3.7" fill="#fff" stroke="#ff0000" stroke-width="1.5"/>
<circle cx="161.00" cy="858.00" r="3.7" fill="#fff" stroke="#ff0000" stroke-width="1.5"/>
<circle cx="168.00" cy="852.00" r="3.7" fill="#fff" stroke="#ff0000" stroke-width="1.5"/>
<circle cx="164.00" cy="846.00" r="3.7" fill="#fff" stroke="#ff0000" stroke-width="1.5"/>
<circle cx="160.00" cy="840.00" r="3.7" fill="#fff" stroke="#ff0000" stroke-width="1.5"/>
<circle cx="166.00" cy="835.00" r="3.7" fill="#fff" stroke="#ff0000" stroke-width="1.5"/>
<circle cx="163.00" cy="829.00" r="3.7" fill="#fff" stroke="#ff0000" stroke-width="1.5"/>
<circle cx="155.60" cy="823.00" r="3.7" fill="#fff" stroke="#ff0000" stroke-width="1.5"/>
<circle cx="162.00" cy="818.00" r="3.7" fill="#fff" stroke="#ff0000" stroke-width="1.5"/>
<circle cx="165.00" cy="812.00" r="3.7" fill="#fff" stroke="#ff0000" stroke-width="1.5"/>
<circle cx="161.00" cy="806.00" r="3.7" fill="#fff" stroke="#ff0000" stroke-width="1.5"/>
<circle cx="166.00" cy="796.00" r="3.7" fill="#fff" stroke="#ff0000" stroke-width="1.5"/>
<circle cx="162.00" cy="790.00" r="3.7" fill="#fff" stroke="#ff0000" stroke-width="1.5"/>
<circle cx="164.00" cy="785.00" r="3.7" fill="#fff" stroke="#ff0000" stroke-width="1.5"/>
<circle cx="175.00" cy="779.00" r="3.7" fill="#fff" stroke="#ff0000" stroke-width="1.5"/>
<circle cx="158.60" cy="772.00" r="3.7" fill="#fff" stroke="#ff0000" stroke-width="1.5"/>
<circle cx="167.00" cy="767.00" r="3.7" fill="#fff" stroke="#ff0000" stroke-width="1.5"/>
<circle cx="164.00" cy="761.00" r="3.7" fill="#fff" stroke="#ff0000" stroke-width="1.5"/>
<circle cx="160.00" cy="755.00" r="3.7" fill="#fff" stroke="#ff0000" stroke-width="1.5"/>
<circle cx="166.00" cy="749.00" r="3.7" fill="#fff" stroke="#ff0000" stroke-width="1.5"/>
<circle cx="163.00" cy="743.60" r="3.7" fill="#fff" stroke="#ff0000" stroke-width="1.5"/>
<circle cx="165.00" cy="738.00" r="3.7" fill="#fff" stroke="#ff0000" stroke-width="1.5"/>
<circle cx="168.00" cy="733.00" r="3.7" fill="#fff" stroke="#ff0000" stroke-width="1.5"/>
<circle cx="163.00" cy="727.40" r="3.7" fill="#fff" stroke="#ff0000" stroke-width="1.5"/>
<circle cx="166.00" cy="721.00" r="3.7" fill="#fff" stroke="#ff0000" stroke-width="1.5"/>
<circle cx="168.40" cy="715.00" r="3.7" fill="#fff" stroke="#ff0000" stroke-width="1.5"/>
<circle cx="194.70" cy="711.00" r="3.7" fill="#fff" stroke="#ff0000" stroke-width="1.5"/>
<circle cx="290.20" cy="709.80" r="3.7" fill="#fff" stroke="#ff0000" stroke-width="1.5"/>
<circle cx="469.30" cy="711.40" r="3.7" fill="#fff" stroke="#ff0000" stroke-width="1.5"/>
<polyline points="163.0,905.2 164.0,897.2 160.0,885.2 161.0,869.2 172.0,858.2 165.0,849.2 164.0,837.2 167.0,823.2 166.0,809.2 162.0,795.2 165.0,788.2 166.0,780.2 164.0,773.2 167.0,766.2 165.0,759.2 170.0,752.2 166.0,745.2 168.0,738.2 172.0,731.2 167.0,725.2 166.0,718.2 170.0,711.2 157.4,704.2 165.0,698.6 186.0,693.6 215.2,689.4 290.2,686.9 470.3,689.5 597.0,689.9" fill="none" stroke="#008000" stroke-width="1.4" stroke-linejoin="round"/>
<path d="M158.60 907.65L167.40 907.65L163.00 900.35Z" fill="#fff" stroke="#008000" stroke-width="1.5"/>
<path d="M159.60 899.65L168.40 899.65L164.00 892.35Z" fill="#fff" stroke="#008000" stroke-width="1.5"/>
<path d="M155.60 887.65L164.40 887.65L160.00 880.35Z" fill="#fff" stroke="#008000" stroke-width="1.5"/>
<path d="M156.60 871.65L165.40 871.65L161.00 864.35Z" fill="#fff" stroke="#008000" stroke-width="1.5"/>
<path d="M167.60 860.65L176.40 860.65L172.00 853.35Z" fill="#fff" stroke="#008000" stroke-width="1.5"/>
<path d="M160.60 851.65L169.40 851.65L165.00 844.35Z" fill="#fff" stroke="#008000" stroke-width="1.5"/>
<path d="M159.60 839.65L168.40 839.65L164.00 832.35Z" fill="#fff" stroke="#008000" stroke-width="1.5"/>
<path d="M162.60 825.65L171.40 825.65L167.00 818.35Z" fill="#fff" stroke="#008000" stroke-width="1.5"/>
<path d="M161.60 811.65L170.40 811.65L166.00 804.35Z" fill="#fff" stroke="#008000" stroke-width="1.5"/>
<path d="M157.60 797.65L166.40 797.65L162.00 790.35Z" fill="#fff" stroke="#008000" stroke-width="1.5"/>
<path d="M160.60 790.65L169.40 790.65L165.00 783.35Z" fill="#fff" stroke="#008000" stroke-width="1.5"/>
<path d="M161.60 782.65L170.40 782.65L166.00 775.35Z" fill="#fff" stroke="#008000" stroke-width="1.5"/>
<path d="M159.60 775.65L168.40 775.65L164.00 768.35Z" fill="#fff" stroke="#008000" stroke-width="1.5"/>
<path d="M162.60 768.65L171.40 768.65L167.00 761.35Z" fill="#fff" stroke="#008000" stroke-width="1.5"/>
<path d="M160.60 761.65L169.40 761.65L165.00 754.35Z" fill="#fff" stroke="#008000" stroke-width="1.5"/>
<path d="M165.60 754.65L174.40 754.65L170.00 747.35Z" fill="#fff" stroke="#008000" stroke-width="1.5"/>
<path d="M161.60 747.65L170.40 747.65L166.00 740.35Z" fill="#fff" stroke="#008000" stroke-width="1.5"/>
<path d="M163.60 740.65L172.40 740.65L168.00 733.35Z" fill="#fff" stroke="#008000" stroke-width="1.5"/>
<path d="M167.60 733.65L176.40 733.65L172.00 726.35Z" fill="#fff" stroke="#008000" stroke-width="1.5"/>
<path d="M162.60 727.65L171.40 727.65L167.00 720.35Z" fill="#fff" stroke="#008000" stroke-width="1.5"/>
<path d="M161.60 720.65L170.40 720.65L166.00 713.35Z" fill="#fff" stroke="#008000" stroke-width="1.5"/>
<path d="M165.60 713.65L174.40 713.65L170.00 706.35Z" fill="#fff" stroke="#008000" stroke-width="1.5"/>
<path d="M153.00 706.65L161.80 706.65L157.40 699.35Z" fill="#fff" stroke="#008000" stroke-width="1.5"/>
<path d="M160.60 701.05L169.40 701.05L165.00 693.75Z" fill="#fff" stroke="#008000" stroke-width="1.5"/>
<path d="M181.60 696.05L190.40 696.05L186.00 688.75Z" fill="#fff" stroke="#008000" stroke-width="1.5"/>
<path d="M210.80 691.85L219.60 691.85L215.20 684.55Z" fill="#fff" stroke="#008000" stroke-width="1.5"/>
<path d="M285.80 689.35L294.60 689.35L290.20 682.05Z" fill="#fff" stroke="#008000" stroke-width="1.5"/>
<path d="M465.90 691.95L474.70 691.95L470.30 684.65Z" fill="#fff" stroke="#008000" stroke-width="1.5"/>
<polyline points="163.0,903.8 167.0,896.8 172.0,890.8 165.0,884.8 166.6,879.4 170.0,873.8 173.0,868.4 169.4,862.4 162.0,856.8 157.0,851.2 168.0,845.8 165.6,840.2 166.0,834.4 165.0,828.8 176.4,823.8 180.0,817.4 168.0,811.8 170.0,806.2 174.4,800.4 180.4,795.4 168.0,789.8 173.0,783.6 182.4,777.8 169.4,772.0 177.0,766.4 173.0,760.8 178.0,755.2 179.0,749.4 169.4,743.8 185.6,739.2 178.0,732.4 173.0,726.8 184.4,721.2 177.0,715.8 183.0,709.8 175.0,704.4 185.4,698.4 262.6,696.8 356.0,695.1 516.8,696.4 597.0,697.0" fill="none" stroke="#0000ff" stroke-width="1.4" stroke-linejoin="round"/>
<path d="M158.60 901.35L167.40 901.35L163.00 908.65Z" fill="#fff" stroke="#0000ff" stroke-width="1.5"/>
<path d="M162.60 894.35L171.40 894.35L167.00 901.65Z" fill="#fff" stroke="#0000ff" stroke-width="1.5"/>
<path d="M167.60 888.35L176.40 888.35L172.00 895.65Z" fill="#fff" stroke="#0000ff" stroke-width="1.5"/>
<path d="M160.60 882.35L169.40 882.35L165.00 889.65Z" fill="#fff" stroke="#0000ff" stroke-width="1.5"/>
<path d="M162.20 876.95L171.00 876.95L166.60 884.25Z" fill="#fff" stroke="#0000ff" stroke-width="1.5"/>
<path d="M165.60 871.35L174.40 871.35L170.00 878.65Z" fill="#fff" stroke="#0000ff" stroke-width="1.5"/>
<path d="M168.60 865.95L177.40 865.95L173.00 873.25Z" fill="#fff" stroke="#0000ff" stroke-width="1.5"/>
<path d="M165.00 859.95L173.80 859.95L169.40 867.25Z" fill="#fff" stroke="#0000ff" stroke-width="1.5"/>
<path d="M157.60 854.35L166.40 854.35L162.00 861.65Z" fill="#fff" stroke="#0000ff" stroke-width="1.5"/>
<path d="M152.60 848.75L161.40 848.75L157.00 856.05Z" fill="#fff" stroke="#0000ff" stroke-width="1.5"/>
<path d="M163.60 843.35L172.40 843.35L168.00 850.65Z" fill="#fff" stroke="#0000ff" stroke-width="1.5"/>
<path d="M161.20 837.75L170.00 837.75L165.60 845.05Z" fill="#fff" stroke="#0000ff" stroke-width="1.5"/>
<path d="M161.60 831.95L170.40 831.95L166.00 839.25Z" fill="#fff" stroke="#0000ff" stroke-width="1.5"/>
<path d="M160.60 826.35L169.40 826.35L165.00 833.65Z" fill="#fff" stroke="#0000ff" stroke-width="1.5"/>
<path d="M172.00 821.35L180.80 821.35L176.40 828.65Z" fill="#fff" stroke="#0000ff" stroke-width="1.5"/>
<path d="M175.60 814.95L184.40 814.95L180.00 822.25Z" fill="#fff" stroke="#0000ff" stroke-width="1.5"/>
<path d="M163.60 809.35L172.40 809.35L168.00 816.65Z" fill="#fff" stroke="#0000ff" stroke-width="1.5"/>
<path d="M165.60 803.75L174.40 803.75L170.00 811.05Z" fill="#fff" stroke="#0000ff" stroke-width="1.5"/>
<path d="M170.00 797.95L178.80 797.95L174.40 805.25Z" fill="#fff" stroke="#0000ff" stroke-width="1.5"/>
<path d="M176.00 792.95L184.80 792.95L180.40 800.25Z" fill="#fff" stroke="#0000ff" stroke-width="1.5"/>
<path d="M163.60 787.35L172.40 787.35L168.00 794.65Z" fill="#fff" stroke="#0000ff" stroke-width="1.5"/>
<path d="M168.60 781.15L177.40 781.15L173.00 788.45Z" fill="#fff" stroke="#0000ff" stroke-width="1.5"/>
<path d="M178.00 775.35L186.80 775.35L182.40 782.65Z" fill="#fff" stroke="#0000ff" stroke-width="1.5"/>
<path d="M165.00 769.55L173.80 769.55L169.40 776.85Z" fill="#fff" stroke="#0000ff" stroke-width="1.5"/>
<path d="M172.60 763.95L181.40 763.95L177.00 771.25Z" fill="#fff" stroke="#0000ff" stroke-width="1.5"/>
<path d="M168.60 758.35L177.40 758.35L173.00 765.65Z" fill="#fff" stroke="#0000ff" stroke-width="1.5"/>
<path d="M173.60 752.75L182.40 752.75L178.00 760.05Z" fill="#fff" stroke="#0000ff" stroke-width="1.5"/>
<path d="M174.60 746.95L183.40 746.95L179.00 754.25Z" fill="#fff" stroke="#0000ff" stroke-width="1.5"/>
<path d="M165.00 741.35L173.80 741.35L169.40 748.65Z" fill="#fff" stroke="#0000ff" stroke-width="1.5"/>
<path d="M181.20 736.75L190.00 736.75L185.60 744.05Z" fill="#fff" stroke="#0000ff" stroke-width="1.5"/>
<path d="M173.60 729.95L182.40 729.95L178.00 737.25Z" fill="#fff" stroke="#0000ff" stroke-width="1.5"/>
<path d="M168.60 724.35L177.40 724.35L173.00 731.65Z" fill="#fff" stroke="#0000ff" stroke-width="1.5"/>
<path d="M180.00 718.75L188.80 718.75L184.40 726.05Z" fill="#fff" stroke="#0000ff" stroke-width="1.5"/>
<path d="M172.60 713.35L181.40 713.35L177.00 720.65Z" fill="#fff" stroke="#0000ff" stroke-width="1.5"/>
<path d="M178.60 707.35L187.40 707.35L183.00 714.65Z" fill="#fff" stroke="#0000ff" stroke-width="1.5"/>
<path d="M170.60 701.95L179.40 701.95L175.00 709.25Z" fill="#fff" stroke="#0000ff" stroke-width="1.5"/>
<path d="M181.00 695.95L189.80 695.95L185.40 703.25Z" fill="#fff" stroke="#0000ff" stroke-width="1.5"/>
<path d="M258.20 694.35L267.00 694.35L262.60 701.65Z" fill="#fff" stroke="#0000ff" stroke-width="1.5"/>
<path d="M351.60 692.65L360.40 692.65L356.00 699.95Z" fill="#fff" stroke="#0000ff" stroke-width="1.5"/>
<path d="M512.40 693.95L521.20 693.95L516.80 701.25Z" fill="#fff" stroke="#0000ff" stroke-width="1.5"/>
</g>
<line x1="119.55" y1="556.00" x2="598.00" y2="556.00" stroke="#000" stroke-width="1.6" />
<line x1="119.55" y1="939.80" x2="598.00" y2="939.80" stroke="#000" stroke-width="1.6" />
<line x1="120.35" y1="556.00" x2="120.35" y2="939.80" stroke="#000" stroke-width="1.6" />
<line x1="597.20" y1="556.00" x2="597.20" y2="939.80" stroke="#000" stroke-width="1.6" />
<line x1="120.12" y1="939.80" x2="120.12" y2="943.80" stroke="#000" stroke-width="1.6" />
<line x1="120.12" y1="556.00" x2="120.12" y2="560.00" stroke="#000" stroke-width="1.6" />
<line x1="163.50" y1="939.80" x2="163.50" y2="946.80" stroke="#000" stroke-width="1.6" />
<line x1="163.50" y1="556.00" x2="163.50" y2="563.00" stroke="#000" stroke-width="1.6" />
<text x="163.50" y="965.50" font-size="16" text-anchor="middle" fill="#000" stroke="#000" stroke-width="0.3" font-family='"Liberation Sans", Arial, sans-serif' >0.0</text>
<line x1="206.88" y1="939.80" x2="206.88" y2="943.80" stroke="#000" stroke-width="1.6" />
<line x1="206.88" y1="556.00" x2="206.88" y2="560.00" stroke="#000" stroke-width="1.6" />
<line x1="250.25" y1="939.80" x2="250.25" y2="946.80" stroke="#000" stroke-width="1.6" />
<line x1="250.25" y1="556.00" x2="250.25" y2="563.00" stroke="#000" stroke-width="1.6" />
<text x="250.25" y="965.50" font-size="16" text-anchor="middle" fill="#000" stroke="#000" stroke-width="0.3" font-family='"Liberation Sans", Arial, sans-serif' >0.1</text>
<line x1="293.62" y1="939.80" x2="293.62" y2="943.80" stroke="#000" stroke-width="1.6" />
<line x1="293.62" y1="556.00" x2="293.62" y2="560.00" stroke="#000" stroke-width="1.6" />
<line x1="337.00" y1="939.80" x2="337.00" y2="946.80" stroke="#000" stroke-width="1.6" />
<line x1="337.00" y1="556.00" x2="337.00" y2="563.00" stroke="#000" stroke-width="1.6" />
<text x="337.00" y="965.50" font-size="16" text-anchor="middle" fill="#000" stroke="#000" stroke-width="0.3" font-family='"Liberation Sans", Arial, sans-serif' >0.2</text>
<line x1="380.38" y1="939.80" x2="380.38" y2="943.80" stroke="#000" stroke-width="1.6" />
<line x1="380.38" y1="556.00" x2="380.38" y2="560.00" stroke="#000" stroke-width="1.6" />
<line x1="423.75" y1="939.80" x2="423.75" y2="946.80" stroke="#000" stroke-width="1.6" />
<line x1="423.75" y1="556.00" x2="423.75" y2="563.00" stroke="#000" stroke-width="1.6" />
<text x="423.75" y="965.50" font-size="16" text-anchor="middle" fill="#000" stroke="#000" stroke-width="0.3" font-family='"Liberation Sans", Arial, sans-serif' >0.3</text>
<line x1="467.13" y1="939.80" x2="467.13" y2="943.80" stroke="#000" stroke-width="1.6" />
<line x1="467.13" y1="556.00" x2="467.13" y2="560.00" stroke="#000" stroke-width="1.6" />
<line x1="510.50" y1="939.80" x2="510.50" y2="946.80" stroke="#000" stroke-width="1.6" />
<line x1="510.50" y1="556.00" x2="510.50" y2="563.00" stroke="#000" stroke-width="1.6" />
<text x="510.50" y="965.50" font-size="16" text-anchor="middle" fill="#000" stroke="#000" stroke-width="0.3" font-family='"Liberation Sans", Arial, sans-serif' >0.4</text>
<line x1="553.88" y1="939.80" x2="553.88" y2="943.80" stroke="#000" stroke-width="1.6" />
<line x1="553.88" y1="556.00" x2="553.88" y2="560.00" stroke="#000" stroke-width="1.6" />
<line x1="597.25" y1="939.80" x2="597.25" y2="946.80" stroke="#000" stroke-width="1.6" />
<line x1="597.25" y1="556.00" x2="597.25" y2="563.00" stroke="#000" stroke-width="1.6" />
<text x="597.25" y="965.50" font-size="16" text-anchor="middle" fill="#000" stroke="#000" stroke-width="0.3" font-family='"Liberation Sans", Arial, sans-serif' >0.5</text>
<line x1="116.85" y1="939.80" x2="120.35" y2="939.80" stroke="#000" stroke-width="1.6" />
<line x1="593.70" y1="939.80" x2="597.20" y2="939.80" stroke="#000" stroke-width="1.6" />
<line x1="113.35" y1="904.91" x2="120.35" y2="904.91" stroke="#000" stroke-width="1.6" />
<line x1="590.20" y1="904.91" x2="597.20" y2="904.91" stroke="#000" stroke-width="1.6" />
<text x="107.05" y="910.01" font-size="16" text-anchor="end" fill="#000" stroke="#000" stroke-width="0.3" font-family='"Liberation Sans", Arial, sans-serif' >0.00</text>
<line x1="116.85" y1="870.02" x2="120.35" y2="870.02" stroke="#000" stroke-width="1.6" />
<line x1="593.70" y1="870.02" x2="597.20" y2="870.02" stroke="#000" stroke-width="1.6" />
<line x1="113.35" y1="835.13" x2="120.35" y2="835.13" stroke="#000" stroke-width="1.6" />
<line x1="590.20" y1="835.13" x2="597.20" y2="835.13" stroke="#000" stroke-width="1.6" />
<text x="107.05" y="840.23" font-size="16" text-anchor="end" fill="#000" stroke="#000" stroke-width="0.3" font-family='"Liberation Sans", Arial, sans-serif' >0.02</text>
<line x1="116.85" y1="800.24" x2="120.35" y2="800.24" stroke="#000" stroke-width="1.6" />
<line x1="593.70" y1="800.24" x2="597.20" y2="800.24" stroke="#000" stroke-width="1.6" />
<line x1="113.35" y1="765.35" x2="120.35" y2="765.35" stroke="#000" stroke-width="1.6" />
<line x1="590.20" y1="765.35" x2="597.20" y2="765.35" stroke="#000" stroke-width="1.6" />
<text x="107.05" y="770.45" font-size="16" text-anchor="end" fill="#000" stroke="#000" stroke-width="0.3" font-family='"Liberation Sans", Arial, sans-serif' >0.04</text>
<line x1="116.85" y1="730.45" x2="120.35" y2="730.45" stroke="#000" stroke-width="1.6" />
<line x1="593.70" y1="730.45" x2="597.20" y2="730.45" stroke="#000" stroke-width="1.6" />
<line x1="113.35" y1="695.56" x2="120.35" y2="695.56" stroke="#000" stroke-width="1.6" />
<line x1="590.20" y1="695.56" x2="597.20" y2="695.56" stroke="#000" stroke-width="1.6" />
<text x="107.05" y="700.66" font-size="16" text-anchor="end" fill="#000" stroke="#000" stroke-width="0.3" font-family='"Liberation Sans", Arial, sans-serif' >0.06</text>
<line x1="116.85" y1="660.67" x2="120.35" y2="660.67" stroke="#000" stroke-width="1.6" />
<line x1="593.70" y1="660.67" x2="597.20" y2="660.67" stroke="#000" stroke-width="1.6" />
<line x1="113.35" y1="625.78" x2="120.35" y2="625.78" stroke="#000" stroke-width="1.6" />
<line x1="590.20" y1="625.78" x2="597.20" y2="625.78" stroke="#000" stroke-width="1.6" />
<text x="107.05" y="630.88" font-size="16" text-anchor="end" fill="#000" stroke="#000" stroke-width="0.3" font-family='"Liberation Sans", Arial, sans-serif' >0.08</text>
<line x1="116.85" y1="590.89" x2="120.35" y2="590.89" stroke="#000" stroke-width="1.6" />
<line x1="593.70" y1="590.89" x2="597.20" y2="590.89" stroke="#000" stroke-width="1.6" />
<line x1="113.35" y1="556.00" x2="120.35" y2="556.00" stroke="#000" stroke-width="1.6" />
<line x1="590.20" y1="556.00" x2="597.20" y2="556.00" stroke="#000" stroke-width="1.6" />
<text x="107.05" y="561.10" font-size="16" text-anchor="end" fill="#000" stroke="#000" stroke-width="0.3" font-family='"Liberation Sans", Arial, sans-serif' >0.10</text>
<text transform="translate(68,749.9) rotate(-90)" font-size="19.6" text-anchor="middle" stroke="#000" stroke-width="0.3" font-family='"Liberation Sans", Arial, sans-serif'>Force per Glucose (nN)</text>
<text x="357.20" y="994.50" font-size="19.6" text-anchor="middle" fill="#000" stroke="#000" stroke-width="0.3" font-family='"Liberation Sans", Arial, sans-serif' >Displacement (nm)</text>
<rect x="348.4" y="822.8" width="227.5" height="100.4" fill="#fff" stroke="#1a1a1a" stroke-width="1.5"/>
<line x1="351.40" y1="836.80" x2="395.40" y2="836.80" stroke="#222" stroke-width="1.3" />
<rect x="370.10" y="833.50" width="6.6" height="6.6" fill="#fff" stroke="#000" stroke-width="1.5"/>
<text x="400.90" y="843.20" font-size="19.7" text-anchor="start" fill="#000" stroke="#000" stroke-width="0.3" font-family='"Liberation Sans", Arial, sans-serif' >(110)/(110)</text>
<line x1="351.40" y1="860.80" x2="395.40" y2="860.80" stroke="#ff0000" stroke-width="1.4" />
<circle cx="373.40" cy="860.80" r="3.7" fill="#fff" stroke="#ff0000" stroke-width="1.5"/>
<text x="400.90" y="867.20" font-size="19.7" text-anchor="start" fill="#000" stroke="#000" stroke-width="0.3" font-family='"Liberation Sans", Arial, sans-serif' >(110)/HG-100/(110)</text>
<line x1="351.40" y1="885.00" x2="395.40" y2="885.00" stroke="#008000" stroke-width="1.4" />
<path d="M369.00 887.45L377.80 887.45L373.40 880.15Z" fill="#fff" stroke="#008000" stroke-width="1.5"/>
<text x="400.90" y="891.40" font-size="19.7" text-anchor="start" fill="#000" stroke="#000" stroke-width="0.3" font-family='"Liberation Sans", Arial, sans-serif' >(110)/HG-50/(110)</text>
<line x1="351.40" y1="910.00" x2="395.40" y2="910.00" stroke="#0000ff" stroke-width="1.4" />
<path d="M369.00 907.55L377.80 907.55L373.40 914.85Z" fill="#fff" stroke="#0000ff" stroke-width="1.5"/>
<text x="400.90" y="916.40" font-size="19.7" text-anchor="start" fill="#000" stroke="#000" stroke-width="0.3" font-family='"Liberation Sans", Arial, sans-serif' >(110)/HG-0/(110)</text>
<text x="323.00" y="1040.90" font-size="27.7" font-family='"Liberation Serif", serif'>(</text>
<text transform="translate(340.00,1040.30) scale(1.2,1)" font-size="25" text-anchor="middle" font-family='"Liberation Serif", serif'>b</text>
<text x="347.80" y="1040.90" font-size="27.7" font-family='"Liberation Serif", serif'>)</text>
<line x1="65.90" y1="1091.10" x2="627.20" y2="1091.10" stroke="#000" stroke-width="1.6" />
<line x1="65.90" y1="1491.50" x2="627.20" y2="1491.50" stroke="#000" stroke-width="1.6" />
<line x1="66.70" y1="1091.10" x2="66.70" y2="1491.50" stroke="#000" stroke-width="1.6" />
<line x1="347.20" y1="1091.10" x2="347.20" y2="1491.50" stroke="#1a1a1a" stroke-width="1.5" />
<line x1="627.20" y1="1090.30" x2="627.20" y2="1492.30" stroke="#0000ff" stroke-width="1.6" />
<line x1="102.00" y1="1491.50" x2="102.00" y2="1498.90" stroke="#000" stroke-width="1.6" />
<line x1="102.00" y1="1091.10" x2="102.00" y2="1098.70" stroke="#000" stroke-width="1.6" />
<line x1="172.00" y1="1491.50" x2="172.00" y2="1498.90" stroke="#000" stroke-width="1.6" />
<line x1="172.00" y1="1091.10" x2="172.00" y2="1098.70" stroke="#000" stroke-width="1.6" />
<line x1="242.00" y1="1491.50" x2="242.00" y2="1498.90" stroke="#000" stroke-width="1.6" />
<line x1="242.00" y1="1091.10" x2="242.00" y2="1098.70" stroke="#000" stroke-width="1.6" />
<line x1="312.00" y1="1491.50" x2="312.00" y2="1498.90" stroke="#000" stroke-width="1.6" />
<line x1="312.00" y1="1091.10" x2="312.00" y2="1098.70" stroke="#000" stroke-width="1.6" />
<line x1="382.00" y1="1491.50" x2="382.00" y2="1498.90" stroke="#000" stroke-width="1.6" />
<line x1="382.00" y1="1091.10" x2="382.00" y2="1098.70" stroke="#000" stroke-width="1.6" />
<line x1="452.00" y1="1491.50" x2="452.00" y2="1498.90" stroke="#000" stroke-width="1.6" />
<line x1="452.00" y1="1091.10" x2="452.00" y2="1098.70" stroke="#000" stroke-width="1.6" />
<line x1="522.00" y1="1491.50" x2="522.00" y2="1498.90" stroke="#000" stroke-width="1.6" />
<line x1="522.00" y1="1091.10" x2="522.00" y2="1098.70" stroke="#000" stroke-width="1.6" />
<line x1="592.00" y1="1491.50" x2="592.00" y2="1498.90" stroke="#000" stroke-width="1.6" />
<line x1="592.00" y1="1091.10" x2="592.00" y2="1098.70" stroke="#000" stroke-width="1.6" />
<line x1="59.70" y1="1491.50" x2="66.70" y2="1491.50" stroke="#000" stroke-width="1.6" />
<line x1="620.20" y1="1491.50" x2="627.20" y2="1491.50" stroke="#0000ff" stroke-width="1.6" />
<text x="53.50" y="1496.90" font-size="16" text-anchor="end" fill="#000" stroke="#000" stroke-width="0.3" font-family='"Liberation Sans", Arial, sans-serif' >0.04</text>
<text x="635.80" y="1496.90" font-size="16" text-anchor="start" fill="#0000ff" stroke="#0000ff" stroke-width="0.3" font-family='"Liberation Sans", Arial, sans-serif' >0.1</text>
<line x1="63.20" y1="1424.77" x2="66.70" y2="1424.77" stroke="#000" stroke-width="1.6" />
<line x1="623.70" y1="1424.77" x2="627.20" y2="1424.77" stroke="#0000ff" stroke-width="1.6" />
<line x1="59.70" y1="1358.03" x2="66.70" y2="1358.03" stroke="#000" stroke-width="1.6" />
<line x1="620.20" y1="1358.03" x2="627.20" y2="1358.03" stroke="#0000ff" stroke-width="1.6" />
<text x="53.50" y="1363.43" font-size="16" text-anchor="end" fill="#000" stroke="#000" stroke-width="0.3" font-family='"Liberation Sans", Arial, sans-serif' >0.06</text>
<text x="635.80" y="1363.43" font-size="16" text-anchor="start" fill="#0000ff" stroke="#0000ff" stroke-width="0.3" font-family='"Liberation Sans", Arial, sans-serif' >0.2</text>
<line x1="63.20" y1="1291.30" x2="66.70" y2="1291.30" stroke="#000" stroke-width="1.6" />
<line x1="623.70" y1="1291.30" x2="627.20" y2="1291.30" stroke="#0000ff" stroke-width="1.6" />
<line x1="59.70" y1="1224.57" x2="66.70" y2="1224.57" stroke="#000" stroke-width="1.6" />
<line x1="620.20" y1="1224.57" x2="627.20" y2="1224.57" stroke="#0000ff" stroke-width="1.6" />
<text x="53.50" y="1229.97" font-size="16" text-anchor="end" fill="#000" stroke="#000" stroke-width="0.3" font-family='"Liberation Sans", Arial, sans-serif' >0.08</text>
<text x="635.80" y="1229.97" font-size="16" text-anchor="start" fill="#0000ff" stroke="#0000ff" stroke-width="0.3" font-family='"Liberation Sans", Arial, sans-serif' >0.3</text>
<line x1="63.20" y1="1157.83" x2="66.70" y2="1157.83" stroke="#000" stroke-width="1.6" />
<line x1="623.70" y1="1157.83" x2="627.20" y2="1157.83" stroke="#0000ff" stroke-width="1.6" />
<line x1="59.70" y1="1091.10" x2="66.70" y2="1091.10" stroke="#000" stroke-width="1.6" />
<line x1="620.20" y1="1091.10" x2="627.20" y2="1091.10" stroke="#0000ff" stroke-width="1.6" />
<text x="53.50" y="1096.50" font-size="16" text-anchor="end" fill="#000" stroke="#000" stroke-width="0.3" font-family='"Liberation Sans", Arial, sans-serif' >0.10</text>
<text x="635.80" y="1096.50" font-size="16" text-anchor="start" fill="#0000ff" stroke="#0000ff" stroke-width="0.3" font-family='"Liberation Sans", Arial, sans-serif' >0.4</text>
<text transform="translate(14.2,1293.5) rotate(-90)" font-size="19.6" text-anchor="middle" stroke="#000" stroke-width="0.3" font-family='"Liberation Sans", Arial, sans-serif'>Adhesion per Glucose (nN)</text>
<text transform="translate(679,1293.5) rotate(-90)" font-size="19.6" text-anchor="middle" fill="#0000ff" stroke="#0000ff" stroke-width="0.3" font-family='"Liberation Sans", Arial, sans-serif'>Adhesion per Glucose (nN)</text>
<line x1="102.00" y1="1133.50" x2="102.00" y2="1149.50" stroke="#0000ff" stroke-width="1.2" />
<line x1="97.80" y1="1133.50" x2="106.20" y2="1133.50" stroke="#0000ff" stroke-width="1.3" />
<line x1="97.80" y1="1149.50" x2="106.20" y2="1149.50" stroke="#0000ff" stroke-width="1.3" />
<circle cx="102.00" cy="1141.50" r="4.2" fill="#fff" stroke="#0000ff" stroke-width="1.4"/>
<line x1="172.00" y1="1249.00" x2="172.00" y2="1289.00" stroke="#000" stroke-width="1.2" />
<line x1="167.80" y1="1249.00" x2="176.20" y2="1249.00" stroke="#000" stroke-width="1.3" />
<line x1="167.80" y1="1289.00" x2="176.20" y2="1289.00" stroke="#000" stroke-width="1.3" />
<circle cx="172.00" cy="1269.20" r="4.2" fill="#fff" stroke="#000" stroke-width="1.4"/>
<line x1="242.00" y1="1222.50" x2="242.00" y2="1262.50" stroke="#000" stroke-width="1.2" />
<line x1="237.80" y1="1222.50" x2="246.20" y2="1222.50" stroke="#000" stroke-width="1.3" />
<line x1="237.80" y1="1262.50" x2="246.20" y2="1262.50" stroke="#000" stroke-width="1.3" />
<circle cx="242.00" cy="1242.50" r="4.2" fill="#fff" stroke="#000" stroke-width="1.4"/>
<line x1="312.00" y1="1250.00" x2="312.00" y2="1289.70" stroke="#000" stroke-width="1.2" />
<line x1="307.80" y1="1250.00" x2="316.20" y2="1250.00" stroke="#000" stroke-width="1.3" />
<line x1="307.80" y1="1289.70" x2="316.20" y2="1289.70" stroke="#000" stroke-width="1.3" />
<circle cx="312.00" cy="1270.00" r="4.2" fill="#fff" stroke="#000" stroke-width="1.4"/>
<line x1="382.00" y1="1391.60" x2="382.00" y2="1418.40" stroke="#000" stroke-width="1.2" />
<line x1="377.80" y1="1391.60" x2="386.20" y2="1391.60" stroke="#000" stroke-width="1.3" />
<line x1="377.80" y1="1418.40" x2="386.20" y2="1418.40" stroke="#000" stroke-width="1.3" />
<rect x="377.3" y="1400.3" width="9.4" height="9.4" fill="#000"/>
<line x1="452.00" y1="1358.60" x2="452.00" y2="1412.00" stroke="#000" stroke-width="1.2" />
<line x1="447.80" y1="1358.60" x2="456.20" y2="1358.60" stroke="#000" stroke-width="1.3" />
<line x1="447.80" y1="1412.00" x2="456.20" y2="1412.00" stroke="#000" stroke-width="1.3" />
<rect x="447.3" y="1380.7" width="9.4" height="9.4" fill="#000"/>
<line x1="522.00" y1="1314.50" x2="522.00" y2="1368.00" stroke="#000" stroke-width="1.2" />
<line x1="517.80" y1="1314.50" x2="526.20" y2="1314.50" stroke="#000" stroke-width="1.3" />
<line x1="517.80" y1="1368.00" x2="526.20" y2="1368.00" stroke="#000" stroke-width="1.3" />
<rect x="517.3" y="1336.3" width="9.4" height="9.4" fill="#000"/>
<line x1="592.00" y1="1337.50" x2="592.00" y2="1378.00" stroke="#000" stroke-width="1.2" />
<line x1="587.80" y1="1337.50" x2="596.20" y2="1337.50" stroke="#000" stroke-width="1.3" />
<line x1="587.80" y1="1378.00" x2="596.20" y2="1378.00" stroke="#000" stroke-width="1.3" />
<rect x="587.3" y="1353.3" width="9.4" height="9.4" fill="#000"/>
<text transform="translate(108.9,1519.3) rotate(-30)" font-size="16" text-anchor="end" stroke="#000" stroke-width="0.3" font-family='"Liberation Sans", Arial, sans-serif'>(200)/(200)</text>
<text transform="translate(178.9,1519.3) rotate(-30)" font-size="16" text-anchor="end" stroke="#000" stroke-width="0.3" font-family='"Liberation Sans", Arial, sans-serif'>(200)/HG-100/(200)</text>
<text transform="translate(248.9,1519.3) rotate(-30)" font-size="16" text-anchor="end" stroke="#000" stroke-width="0.3" font-family='"Liberation Sans", Arial, sans-serif'>(200)/HG-50/(200)</text>
<text transform="translate(318.9,1519.3) rotate(-30)" font-size="16" text-anchor="end" stroke="#000" stroke-width="0.3" font-family='"Liberation Sans", Arial, sans-serif'>(200)/HG-0/(200)</text>
<text transform="translate(388.9,1519.3) rotate(-30)" font-size="16" text-anchor="end" stroke="#000" stroke-width="0.3" font-family='"Liberation Sans", Arial, sans-serif'>(110)/(110)</text>
<text transform="translate(458.9,1519.3) rotate(-30)" font-size="16" text-anchor="end" stroke="#000" stroke-width="0.3" font-family='"Liberation Sans", Arial, sans-serif'>(110)/HG-100/(110)</text>
<text transform="translate(528.9,1519.3) rotate(-30)" font-size="16" text-anchor="end" stroke="#000" stroke-width="0.3" font-family='"Liberation Sans", Arial, sans-serif'>(110)/HG-50/(110)</text>
<text transform="translate(598.9,1519.3) rotate(-30)" font-size="16" text-anchor="end" stroke="#000" stroke-width="0.3" font-family='"Liberation Sans", Arial, sans-serif'>(110)/HG-0/(110)</text>
<text x="325.00" y="1635.70" font-size="27.7" font-family='"Liberation Serif", serif'>(</text>
<text transform="translate(339.80,1635.30) scale(1.2,1)" font-size="25" text-anchor="middle" font-family='"Liberation Serif", serif'>c</text>
<text x="345.80" y="1635.70" font-size="27.7" font-family='"Liberation Serif", serif'>)</text>
</svg>
</body></html>
